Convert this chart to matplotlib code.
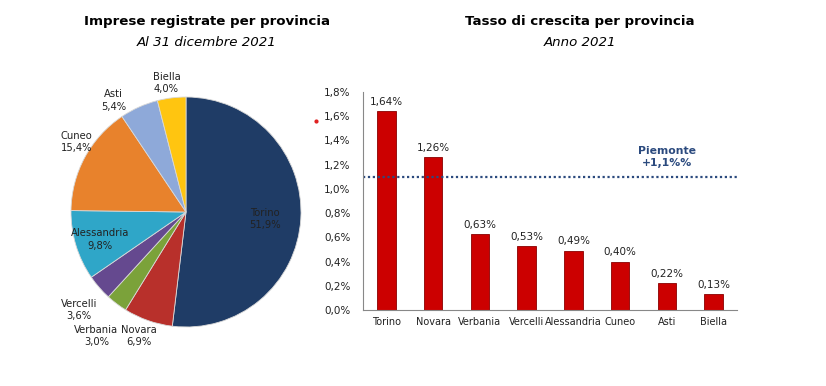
import matplotlib.pyplot as plt
import numpy as np

# data
province_pie = ['Torino', 'Novara', 'Verbania', 'Vercelli', 'Alessandria', 'Cuneo', 'Asti', 'Biella']
quote_pie = [51.9, 6.9, 3.0, 3.6, 9.8, 15.4, 5.4, 4.0]
colori_pie = ['#1F3C66', '#B8302B', '#7BA23A', '#65498F', '#2FA6C8', '#E8822C', '#8EA9D9', '#FFC510']

province_bar = ['Torino', 'Novara', 'Verbania', 'Vercelli', 'Alessandria', 'Cuneo', 'Asti', 'Biella']
crescita = [1.64, 1.26, 0.63, 0.53, 0.49, 0.40, 0.22, 0.13]
piemonte = 1.1

# label positions (in pie radius units, relative to center)
label_pos = [(0.69, -0.06), (-0.41, -1.08), (-0.78, -1.08), (-0.93, -0.85),
             (-0.75, -0.24), (-0.95, 0.61), (-0.63, 0.97), (-0.17, 1.12)]


def fmt(v, dec):
    return f'{v:.{dec}f}'.replace('.', ',') + '%'


plt.rcParams['font.family'] = 'DejaVu Sans'
fig = plt.figure(figsize=(8.26, 3.86), dpi=100)

# ---- pie
ax_pie = fig.add_axes([36 / 826, 24 / 386, 300 / 826, 300 / 386])
ax_pie.pie(quote_pie, colors=colori_pie, startangle=90, counterclock=False,
           wedgeprops=dict(edgecolor='#D8D8D8', linewidth=0.6))
ax_pie.set_xlim(-150 / 115, 150 / 115)
ax_pie.set_ylim(-150 / 115, 150 / 115)
ax_pie.set_aspect('equal')
ax_pie.axis('off')
for name, q, (x, y) in zip(province_pie, quote_pie, label_pos):
    ax_pie.text(x, y, name + '\n' + fmt(q, 1), ha='center', va='center',
                fontsize=7.2, color='#222222', linespacing=1.3)

fig.text(207 / 826, 1 - 22 / 386, 'Imprese registrate per provincia',
         ha='center', va='center', fontsize=9.6, fontweight='bold')
fig.text(207 / 826, 1 - 42 / 386, 'Al 31 dicembre 2021',
         ha='center', va='center', fontsize=9.6, style='italic')

# ---- bars
ax_bar = fig.add_axes([363 / 826, 76 / 386, 374 / 826, 218 / 386])
x = np.arange(len(province_bar))
ax_bar.bar(x, crescita, width=0.4, color='#CC0000', edgecolor='#8A0000', linewidth=0.6)
for xi, v in zip(x, crescita):
    ax_bar.annotate(fmt(v, 2), (xi, v), xytext=(0, 3), textcoords='offset points',
                    ha='center', va='bottom', fontsize=7.5, color='#222222')
ax_bar.axhline(piemonte, color='#2B4A7E', linestyle=(0, (1, 1.2)), linewidth=1.6)
ax_bar.text(6.0, 1.265, 'Piemonte\n+1,1%%', ha='center', va='center', fontsize=7.8,
            fontweight='bold', color='#2B4A7E', linespacing=1.2)

ax_bar.set_xlim(-0.5, 7.5)
ax_bar.set_ylim(0, 1.8)
ax_bar.set_yticks(np.arange(0, 1.81, 0.2))
ax_bar.set_yticklabels([fmt(v, 1) for v in np.arange(0, 1.81, 0.2)])
ax_bar.set_xticks(x)
ax_bar.set_xticklabels(province_bar)
ax_bar.tick_params(axis='both', length=0, colors='#222222')
ax_bar.tick_params(axis='y', pad=9, labelsize=7.5)
ax_bar.tick_params(axis='x', pad=5, labelsize=7)
for s in ['top', 'right']:
    ax_bar.spines[s].set_visible(False)
for s in ['left', 'bottom']:
    ax_bar.spines[s].set_color('#888888')
    ax_bar.spines[s].set_linewidth(0.8)

fig.text(580 / 826, 1 - 22 / 386, 'Tasso di crescita per provincia',
         ha='center', va='center', fontsize=9.6, fontweight='bold')
fig.text(580 / 826, 1 - 42 / 386, 'Anno 2021',
         ha='center', va='center', fontsize=9.6, style='italic')

# small red dot in the original
fig.add_artist(plt.Line2D([316 / 826], [1 - 121 / 386], marker='o', markersize=2,
                          color='#E02020', linestyle='none'))

fig.savefig('out.png', dpi=100)
